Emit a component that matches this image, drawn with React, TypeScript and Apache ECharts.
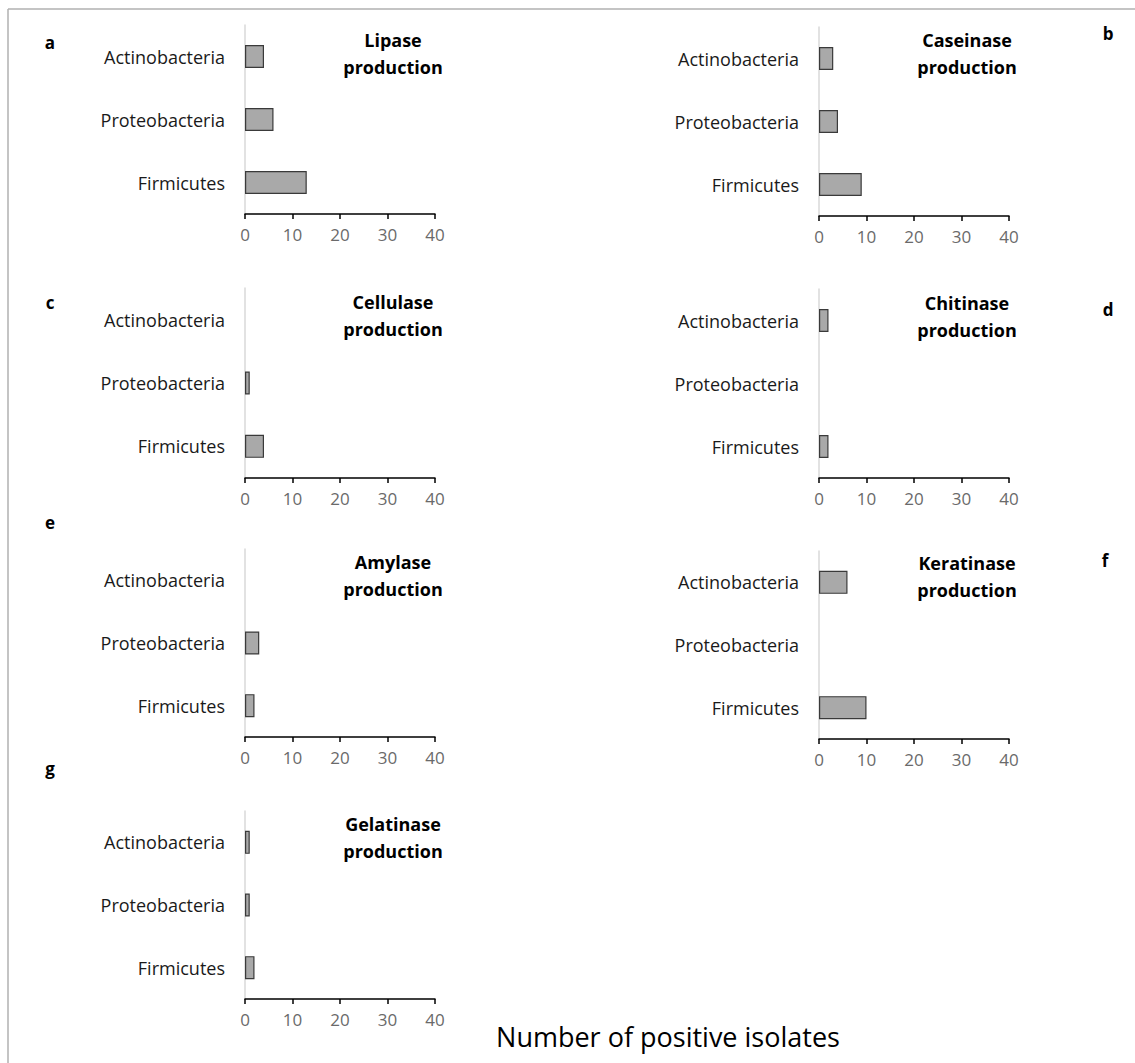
import React, { useEffect, useRef } from "react";
import * as echarts from "echarts";

const categories = ["Firmicutes", "Proteobacteria", "Actinobacteria"];
const xTicks = [0, 10, 20, 30, 40];

const panelLetters = ["a", "b", "c", "d", "e", "f", "g"];
const panelTitles = [
  "Lipase\nproduction",
  "Caseinase\nproduction",
  "Cellulase\nproduction",
  "Chitinase\nproduction",
  "Amylase\nproduction",
  "Keratinase\nproduction",
  "Gelatinase\nproduction",
];

// values in order Firmicutes, Proteobacteria, Actinobacteria
const lipase = [13, 6, 4];
const caseinase = [9, 4, 3];
const cellulase = [4, 1, 0];
const chitinase = [2, 0, 2];
const amylase = [2, 3, 0];
const keratinase = [10, 0, 6];
const gelatinase = [2, 1, 1];

const panelValues = [lipase, caseinase, cellulase, chitinase, amylase, keratinase, gelatinase];

const xLabel = "Number of positive isolates";

// layout (positions)
const grids = [
  { left: 245, top: 25, h: 189 },
  { left: 819, top: 27, h: 189 },
  { left: 245, top: 288, h: 190 },
  { left: 819, top: 289, h: 189 },
  { left: 245, top: 549, h: 188 },
  { left: 819, top: 551, h: 188 },
  { left: 245, top: 811, h: 188 },
];
const letterPos = [
  [50, 42],
  [1108, 33],
  [50, 302],
  [1108, 309],
  [50, 522],
  [1105, 560],
  [50, 768],
];
const titlePos = [
  [393, 40],
  [967, 40],
  [393, 302],
  [967, 303],
  [393, 562],
  [967, 563],
  [393, 824],
];

const FONT = "'Open Sans', 'Noto Sans', sans-serif";

export default function App() {
  const ref = useRef<HTMLDivElement>(null);
  useEffect(() => {
    if (!ref.current) return;
    const chart = echarts.init(ref.current, null, { renderer: "svg" });
    const gridOpts = grids.map((g) => ({
      left: g.left,
      top: g.top,
      width: 190,
      height: g.h,
      containLabel: false,
    }));
    const xAxes = grids.map((_, i) => ({
      type: "value",
      gridIndex: i,
      min: 0,
      max: xTicks[xTicks.length - 1],
      interval: 10,
      axisLine: { show: true, lineStyle: { color: "#000", width: 1.5 } },
      axisTick: { show: true, length: 5, lineStyle: { color: "#000", width: 1.5 } },
      axisLabel: { color: "#6a6a6a", fontSize: 17, fontFamily: FONT, margin: 12 },
      splitLine: { show: false },
    }));
    const yAxes = grids.map((_, i) => ({
      type: "category",
      gridIndex: i,
      data: categories,
      axisLine: { show: true, lineStyle: { color: "#d9d9d9", width: 1.5 } },
      axisTick: { show: false },
      axisLabel: { color: "#1a1a1a", fontSize: 18, fontFamily: FONT, margin: 20 },
    }));
    const series = panelValues.map((vals, i) => ({
      type: "bar",
      xAxisIndex: i,
      yAxisIndex: i,
      barWidth: 23,
      data: vals.map((v) =>
        v === 0 ? { value: v, itemStyle: { borderWidth: 0, opacity: 0 } } : v
      ),
      itemStyle: { color: "#a9a9a9", borderColor: "#3a3a3a", borderWidth: 1.2 },
    }));
    const graphics: any[] = [
      { type: "line", shape: { x1: 8, y1: 9, x2: 1135, y2: 9 }, style: { stroke: "#b0b0b0", lineWidth: 1.5 } },
      { type: "line", shape: { x1: 8, y1: 9, x2: 8, y2: 1063 }, style: { stroke: "#b0b0b0", lineWidth: 1.5 } },
    ];
    panelLetters.forEach((l, i) => {
      graphics.push({
        type: "text",
        x: letterPos[i][0],
        y: letterPos[i][1],
        style: {
          text: l,
          fontSize: 17,
          fontWeight: "bold",
          fontFamily: FONT,
          fill: "#000",
          align: "center",
          verticalAlign: "middle",
        },
      });
    });
    panelTitles.forEach((t, i) => {
      graphics.push({
        type: "text",
        x: titlePos[i][0],
        y: titlePos[i][1] - 14,
        style: {
          text: t,
          fontSize: 18,
          lineHeight: 27,
          fontWeight: "bold",
          fontFamily: FONT,
          fill: "#000",
          align: "center",
          verticalAlign: "top",
        },
      });
    });
    graphics.push({
      type: "text",
      x: 668,
      y: 1036,
      style: {
        text: xLabel,
        fontSize: 27,
        fontFamily: FONT,
        fill: "#000",
        align: "center",
        verticalAlign: "middle",
      },
    });
    chart.setOption({
      animation: false,
      backgroundColor: "#fff",
      grid: gridOpts,
      xAxis: xAxes,
      yAxis: yAxes,
      series,
      graphic: graphics,
    });
    return () => chart.dispose();
  }, []);
  return (
    <div
      ref={ref}
      style={{ position: "absolute", left: 0, top: 0, width: 1135, height: 1063 }}
    />
  );
}
